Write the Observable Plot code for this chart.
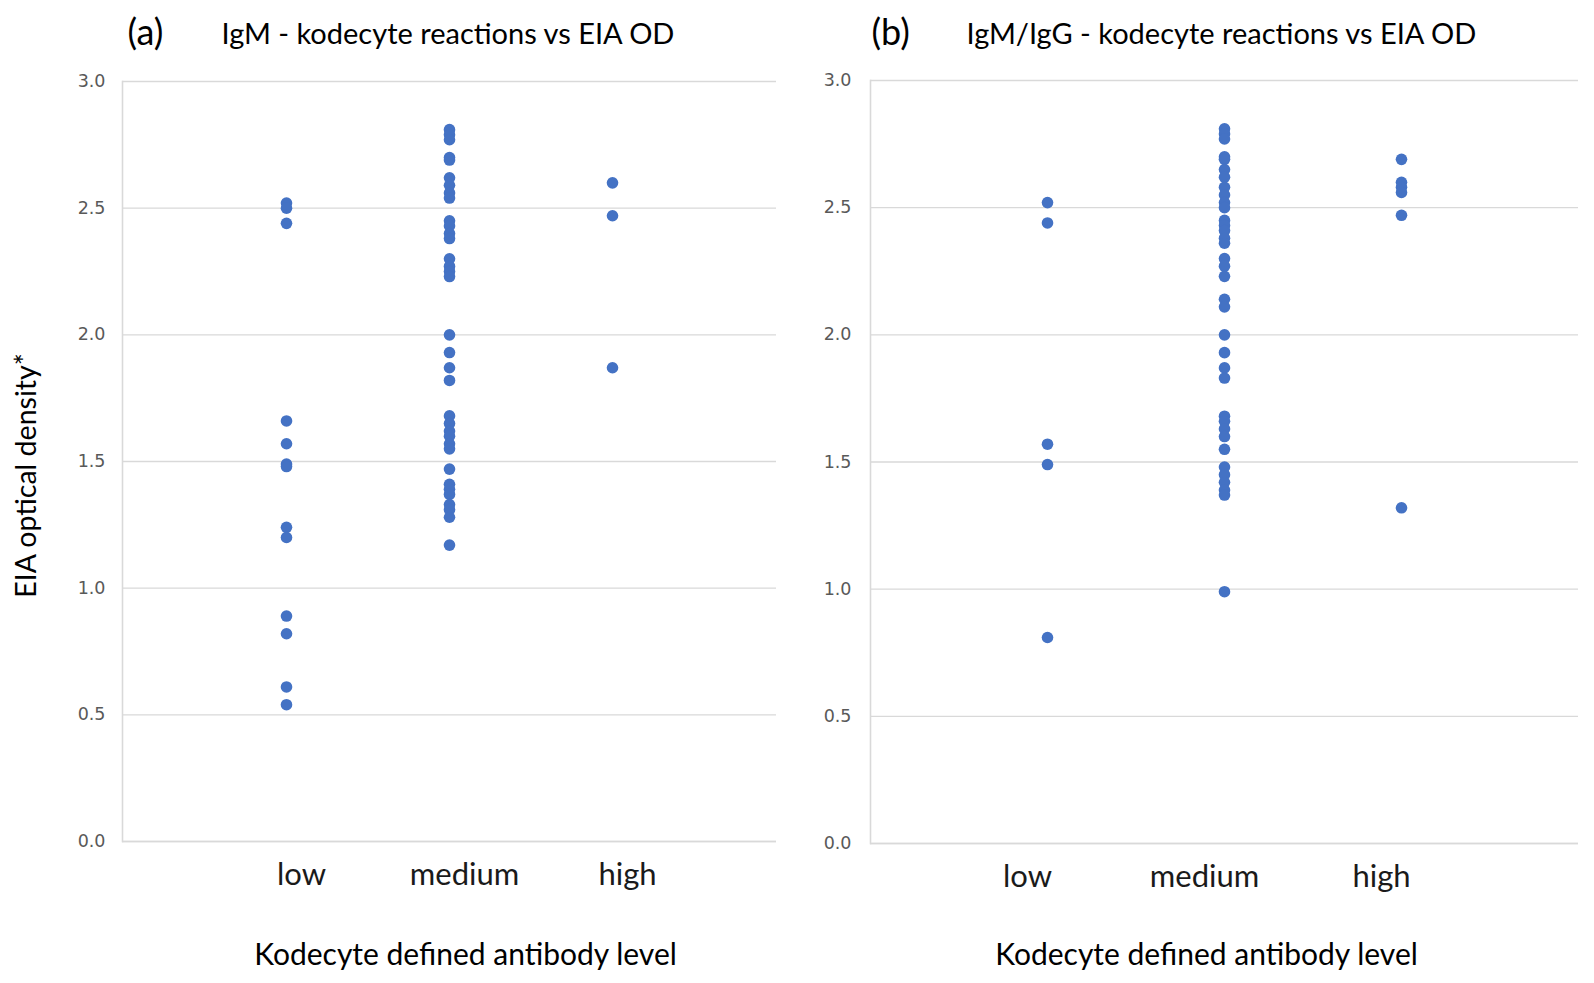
<!DOCTYPE html>
<html>
<head>
<meta charset="utf-8">
<script src="https://cdn.jsdelivr.net/npm/d3@7"></script>
<script src="https://cdn.jsdelivr.net/npm/@observablehq/plot@0.6"></script>
<style>
  html, body { margin: 0; padding: 0; background: #fff; }
  #wrap { position: relative; width: 1594px; height: 983px; overflow: hidden; background: #fff; }
  .panel { position: absolute; top: 0; }
</style>
</head>
<body>
<div id="wrap">
  <div class="panel" id="pa" style="left:0px"></div>
  <div class="panel" id="pb" style="left:797px"></div>
</div>
<script>
// ---- data ----
const levels = ["low", "medium", "high"];
const yTicks = [0, 0.5, 1.0, 1.5, 2.0, 2.5, 3.0];

const titleA = "IgM - kodecyte reactions vs EIA OD";
const titleB = "IgM/IgG - kodecyte reactions vs EIA OD";
const tagA = "(a)";
const tagB = "(b)";
const xTitle = "Kodecyte defined antibody level";
const yTitle = "EIA optical density*";

// Panel (a): IgM
const igmLow = [2.52, 2.50, 2.44, 1.66, 1.57, 1.49, 1.48, 1.24, 1.20, 0.89, 0.82, 0.61, 0.54];
const igmMedium = [2.81, 2.79, 2.77, 2.70, 2.69, 2.62, 2.59, 2.56, 2.54, 2.45, 2.43, 2.40, 2.38,
  2.30, 2.27, 2.25, 2.23, 2.00, 1.93, 1.87, 1.82, 1.68, 1.65, 1.62, 1.60, 1.57, 1.55,
  1.47, 1.41, 1.39, 1.37, 1.33, 1.31, 1.28, 1.17];
const igmHigh = [2.60, 2.47, 1.87];

// Panel (b): IgM/IgG
const iggLow = [2.52, 2.44, 1.57, 1.49, 0.81];
const iggMedium = [2.81, 2.79, 2.77, 2.70, 2.69, 2.65, 2.62, 2.58, 2.55, 2.52, 2.50,
  2.45, 2.43, 2.41, 2.38, 2.36, 2.30, 2.27, 2.23, 2.14, 2.11, 2.00, 1.93, 1.87, 1.83,
  1.68, 1.66, 1.63, 1.60, 1.55, 1.48, 1.45, 1.42, 1.39, 1.37, 0.99];
const iggHigh = [2.69, 2.60, 2.58, 2.56, 2.47, 1.32];

function rows(low, medium, high) {
  return [
    ...low.map(v => ({level: "low", od: v})),
    ...medium.map(v => ({level: "medium", od: v})),
    ...high.map(v => ({level: "high", od: v}))
  ];
}

const FONT = "Lato, 'Open Sans', sans-serif";
const DOT = "#4472C4";
const GRID = "#d9d9d9";

function panel(cfg) {
  const marks = [
    Plot.gridY(yTicks, {stroke: GRID, strokeOpacity: 1, strokeWidth: 1.3}),
    Plot.ruleY([0], {stroke: GRID, strokeWidth: 1.3}),
    Plot.frame({anchor: "left", stroke: GRID, strokeOpacity: 1, strokeWidth: 1.6}),
    Plot.axisY(yTicks, {
      tickSize: 0, tickPadding: cfg.yPad, tickFormat: d3.format(".1f"),
      fontSize: 17.5, fill: "#595959", label: null,
      fontFamily: "'DejaVu Sans', sans-serif"
    }),
    Plot.axisX({
      tickSize: 0, tickPadding: 21, fontSize: 31, fill: "#1a1a1a", label: null, dx: cfg.xLabDx
    }),
    Plot.dot(cfg.data, {x: "level", y: "od", r: 5.8, fill: DOT, stroke: null}),
    Plot.text([cfg.tag], {frameAnchor: "top-left", textAnchor: "start", lineAnchor: "middle", dx: cfg.tagDx, dy: cfg.tagDy, fontSize: 36, fill: "#000"}),
    Plot.text([cfg.title], {frameAnchor: "top-left", textAnchor: "start", lineAnchor: "middle", dx: cfg.titleDx, dy: cfg.titleDy, fontSize: 29, fill: "#000"}),
    Plot.text([xTitle], {frameAnchor: "bottom", textAnchor: "middle", lineAnchor: "middle", dx: cfg.xTitleDx, dy: cfg.xTitleDy, fontSize: 30, fill: "#000"})
  ];
  if (cfg.yTitle) {
    marks.push(Plot.text([cfg.yTitle], {frameAnchor: "left", textAnchor: "middle", lineAnchor: "middle", rotate: -90, dx: -96, dy: 14, fontSize: 28.5, fill: "#000"}));
  }
  return Plot.plot({
    width: 797,
    height: 983,
    marginLeft: cfg.ml,
    marginRight: cfg.mr,
    marginTop: cfg.mt,
    marginBottom: cfg.mb,
    style: {fontFamily: FONT, background: "transparent", overflow: "visible"},
    x: {type: "point", domain: levels, padding: 1},
    y: {domain: [0, 3]},
    marks
  });
}

document.getElementById("pa").append(panel({
  data: rows(igmLow, igmMedium, igmHigh),
  ml: 122, mr: 21, mt: 81, mb: 142, yPad: 17, xLabDx: 15,
  tag: tagA, tagDx: 5, tagDy: -48, title: titleA, titleDx: 99, titleDy: -47,
  xTitleDx: 16, xTitleDy: 114, yTitle: yTitle
}));
document.getElementById("pb").append(panel({
  data: rows(iggLow, iggMedium, iggHigh),
  ml: 73, mr: 16, mt: 80, mb: 140, yPad: 19, xLabDx: -20,
  tag: tagB, tagDx: 1, tagDy: -47, title: titleB, titleDx: 96, titleDy: -46,
  xTitleDx: -18, xTitleDy: 112, yTitle: null
}));
</script>
</body>
</html>
